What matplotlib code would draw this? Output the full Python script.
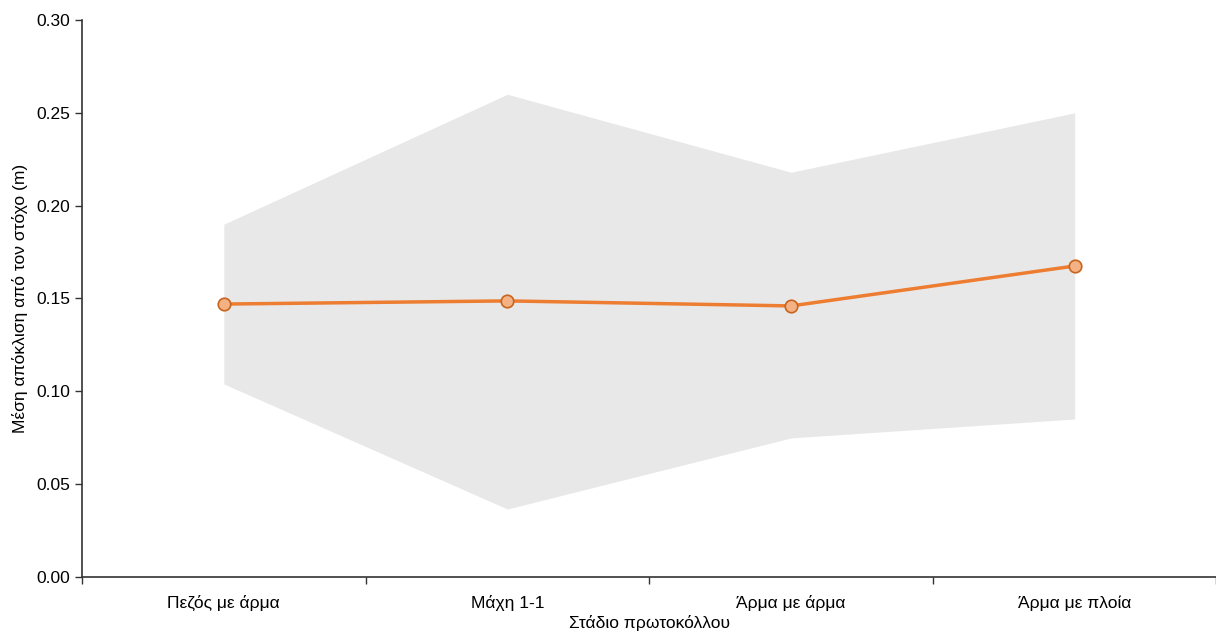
import matplotlib
matplotlib.use("Agg")
import matplotlib.pyplot as plt

plt.rcParams['font.family'] = ['Liberation Sans', 'DejaVu Sans']

categories = ["Πεζός με άρμα", "Μάχη 1-1", "Άρμα με άρμα", "Άρμα με πλοία"]
mean_values = [0.147, 0.1487, 0.146, 0.1675]
upper_values = [0.190, 0.260, 0.218, 0.250]
lower_values = [0.104, 0.0366, 0.0749, 0.0851]
y_ticks = [0.00, 0.05, 0.10, 0.15, 0.20, 0.25, 0.30]

fig = plt.figure(figsize=(12.16, 6.33), dpi=100)
ax = fig.add_axes([0.0674, 0.0885, 0.933, 0.8799])

x = list(range(len(categories)))
ax.fill_between(x, lower_values, upper_values, color='#E8E8E8', linewidth=0, zorder=1)
ax.plot(x, mean_values, color='#ED7D31', linewidth=2.5, marker='o', markersize=9,
        markerfacecolor='#F4B183', markeredgecolor='#C8641E', markeredgewidth=1.2, zorder=3)

ax.set_xlim(-0.5, 3.5)
ax.set_ylim(0, 0.30)
ax.set_yticks(y_ticks)
ax.set_yticklabels([f"{v:.2f}" for v in y_ticks], fontsize=12.5)
ax.set_xticks([i - 0.5 for i in range(len(categories) + 1)])
ax.set_xticklabels([])
ax.set_xticks(x, minor=True)
ax.set_xticklabels(categories, minor=True, fontsize=12.5)
ax.tick_params(axis='x', which='minor', length=0, pad=13)
ax.tick_params(axis='x', which='major', length=5, width=1, color='#333333')
ax.tick_params(axis='y', length=5, width=1, color='#333333')

for s in ['top', 'right']:
    ax.spines[s].set_visible(False)
for s in ['left', 'bottom']:
    ax.spines[s].set_color('#333333')
    ax.spines[s].set_linewidth(1.2)

ax.set_ylabel("Μέση απόκλιση από τον στόχο (m)", fontsize=12.5, labelpad=6)
ax.set_xlabel("Στάδιο πρωτοκόλλου", fontsize=12.5, labelpad=3)

fig.savefig("out.png", dpi=100)
